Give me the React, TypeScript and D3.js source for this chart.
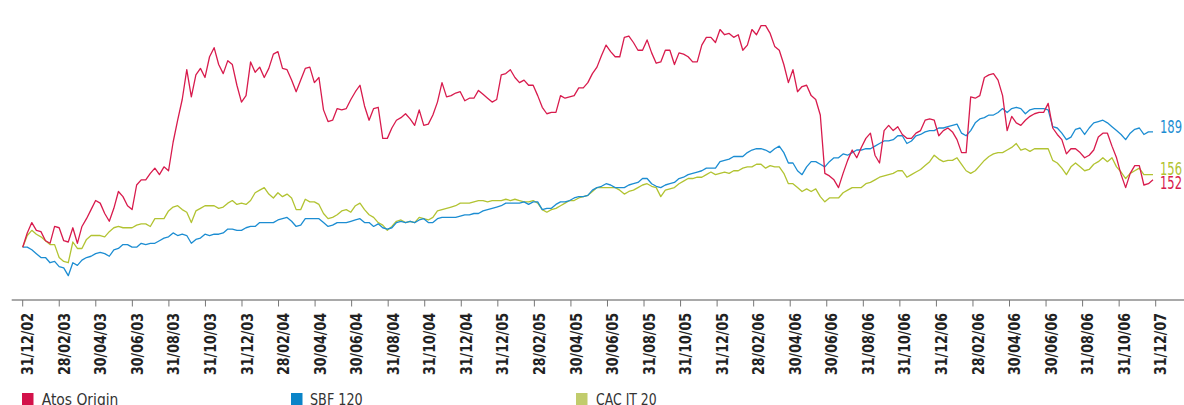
import React from "react";
import * as d3 from "d3";

// x axis labels, every two months (as printed in the original, typos included)
const dateLabels = [
  "31/12/02", "28/02/03", "30/04/03", "30/06/03", "31/08/03", "31/10/03", "31/12/03",
  "28/02/04", "30/04/04", "30/06/04", "31/08/04", "31/10/04", "31/12/04", "31/12/05",
  "28/02/05", "30/04/05", "30/06/05", "31/08/05", "31/10/05", "31/12/05", "28/02/06",
  "30/04/06", "30/06/06", "31/08/06", "31/10/06", "31/12/06", "28/02/06", "30/04/06",
  "30/06/06", "31/08/06", "31/10/06", "31/12/07",
];

// base 100 on 31/12/02, read off roughly once a week
const atosOrigin = [
  100, 111, 119, 113, 112, 105, 103, 116, 115, 105, 104, 115, 103, 116, 122, 129, 136, 134, 126, 120,
  130, 143, 139, 132, 129, 148, 152, 152, 157, 161, 156, 162, 159, 181, 198, 214, 237, 216, 233, 238,
  231, 247, 254, 241, 234, 244, 241, 225, 212, 217, 243, 235, 239, 231, 238, 249, 251, 238, 237, 229,
  220, 229, 238, 239, 227, 231, 206, 197, 198, 207, 206, 207, 214, 220, 225, 209, 198, 207, 208, 184,
  184, 192, 198, 200, 203, 199, 194, 206, 194, 195, 202, 212, 227, 216, 217, 219, 220, 213, 215, 215,
  221, 218, 215, 212, 214, 233, 234, 237, 231, 227, 229, 225, 225, 217, 208, 203, 204, 204, 217, 215,
  216, 217, 223, 223, 227, 234, 239, 248, 256, 251, 247, 247, 262, 263, 258, 252, 252, 260, 250, 242,
  243, 252, 252, 241, 250, 249, 247, 243, 243, 256, 262, 262, 258, 268, 264, 265, 262, 264, 252, 256,
  268, 264, 271, 271, 265, 255, 252, 241, 227, 237, 220, 224, 225, 217, 214, 202, 157, 155, 152, 146,
  157, 167, 175, 169, 177, 184, 188, 171, 165, 190, 194, 190, 193, 187, 184, 184, 188, 190, 198, 199,
  198, 186, 190, 192, 189, 183, 173, 173, 216, 215, 217, 231, 233, 234, 229, 217, 190, 201, 196, 194,
  198, 201, 203, 204, 204, 211, 192, 187, 183, 172, 176, 176, 173, 169, 171, 175, 185, 188, 188, 178,
  169, 156, 146, 157, 163, 163, 148, 149, 152,
];

const sbf120 = [
  100, 100, 98, 95, 92, 92, 88, 89, 85, 84, 78, 88, 86, 90, 92, 93, 95, 96, 95, 93,
  98, 99, 102, 102, 100, 100, 103, 102, 103, 103, 105, 107, 108, 111, 109, 110, 109, 103, 106, 107,
  110, 109, 110, 110, 111, 114, 114, 113, 113, 115, 116, 116, 119, 119, 119, 119, 121, 122, 123, 120,
  116, 117, 122, 122, 122, 122, 119, 116, 117, 119, 119, 119, 120, 121, 122, 119, 119, 116, 118, 115,
  114, 115, 119, 120, 119, 120, 119, 121, 122, 119, 119, 122, 123, 123, 123, 123, 124, 125, 125, 126,
  126, 128, 129, 130, 131, 132, 134, 134, 134, 134, 135, 133, 135, 135, 129, 130, 130, 133, 135, 135,
  136, 138, 139, 139, 140, 144, 146, 147, 149, 148, 146, 146, 146, 148, 149, 150, 153, 153, 149, 147,
  146, 148, 149, 150, 153, 154, 156, 157, 158, 159, 161, 161, 161, 166, 167, 168, 170, 170, 170, 173,
  175, 176, 176, 175, 173, 176, 178, 173, 165, 165, 159, 156, 162, 166, 166, 164, 162, 166, 169, 169,
  172, 171, 173, 175, 175, 176, 176, 178, 180, 182, 182, 183, 186, 186, 180, 182, 186, 187, 189, 190,
  190, 192, 192, 193, 194, 195, 188, 186, 190, 196, 199, 200, 202, 202, 204, 207, 204, 207, 208, 207,
  203, 206, 207, 207, 207, 206, 193, 192, 188, 183, 185, 191, 192, 187, 192, 196, 197, 198, 196, 193,
  190, 187, 183, 188, 191, 192, 187, 189, 189,
];

const cacIT20 = [
  100, 109, 113, 110, 108, 105, 102, 102, 92, 89, 88, 104, 99, 99, 106, 109, 109, 109, 108, 112,
  115, 116, 115, 115, 115, 117, 118, 118, 116, 122, 122, 122, 128, 131, 132, 129, 127, 119, 128, 130,
  132, 132, 132, 130, 131, 134, 136, 133, 134, 133, 136, 142, 144, 146, 141, 138, 142, 139, 141, 138,
  129, 129, 137, 135, 135, 133, 126, 122, 123, 125, 128, 129, 127, 132, 134, 129, 125, 123, 119, 117,
  113, 116, 120, 121, 119, 120, 119, 123, 122, 121, 123, 128, 129, 130, 131, 132, 134, 134, 134, 135,
  136, 136, 135, 136, 136, 136, 137, 136, 137, 136, 135, 135, 136, 134, 129, 127, 129, 130, 132, 134,
  136, 136, 138, 139, 140, 143, 146, 146, 146, 146, 146, 144, 141, 143, 144, 146, 148, 149, 147, 146,
  139, 144, 145, 146, 149, 151, 153, 153, 154, 154, 156, 158, 156, 157, 158, 157, 159, 159, 161, 162,
  162, 164, 164, 161, 163, 162, 162, 157, 149, 149, 146, 143, 145, 143, 145, 139, 135, 138, 138, 138,
  142, 144, 146, 146, 146, 149, 150, 152, 154, 155, 156, 157, 159, 159, 154, 156, 158, 160, 163, 166,
  171, 168, 166, 167, 167, 169, 164, 159, 157, 159, 163, 167, 170, 172, 173, 173, 175, 177, 180, 175,
  176, 174, 176, 176, 176, 176, 167, 165, 161, 156, 162, 165, 162, 159, 160, 164, 166, 169, 166, 169,
  162, 158, 153, 157, 159, 161, 156, 156, 156,
];

const seriesNames = ["Atos Origin", "SBF 120", "CAC IT 20"];

const W = 1184;
const H = 405;
const lineColors = ["#d81b4d", "#1c8dd2", "#b2c332"];
const swatchColors = ["#d3124a", "#0a84c8", "#c1cc6c"];
const labelFont = "'Liberation Sans Narrow', 'DejaVu Sans Condensed', 'Arial Narrow', sans-serif";

const App = () => {
  const series = [atosOrigin, sbf120, cacIT20];

  const xTick = d3.scaleLinear().domain([0, dateLabels.length - 1]).range([22.7, 1155.7]);
  const y = d3.scaleLinear().domain([60, 280]).range([299, 14]);

  const makeLine = (s: number[]) => {
    const xData = d3.scaleLinear().domain([0, s.length - 1]).range([22.7, 1153]);
    return d3.line<number>()
      .x((d, i) => xData(i))
      .y(d => y(d))(s);
  };

  // end value labels, nudged so they do not overlap
  const endDy = [9.5, 1, 0];
  const legendX = [22, 291, 576];
  const legendTextX = [19.7, 19, 20];
  const legendTextLen = [76.7, 52.7, 60.7];

  return (
    <div>
      <style>{`body{margin:0}`}</style>
      <svg width={W} height={H} style={{ display: "block" }}>
        <rect width={W} height={H} fill="#fff" />

        {/* draw order: green, blue, red on top */}
        {[2, 1, 0].map(si => (
          <path
            key={si}
            d={makeLine(series[si]) || ""}
            fill="none"
            stroke={lineColors[si]}
            strokeWidth={1.3}
            strokeLinejoin="round"
          />
        ))}

        {series.map((s, si) => {
          const last = s[s.length - 1];
          return (
            <text
              key={"end" + si}
              x={1160}
              y={y(last) + endDy[si]}
              fill={lineColors[si]}
              fontFamily={labelFont}
              fontSize={17}
              textLength={22}
              lengthAdjust="spacingAndGlyphs"
            >
              {last}
            </text>
          );
        })}

        {/* x axis */}
        <line x1={11.7} x2={W} y1={300} y2={300} stroke="#555" strokeWidth={1.2} />
        {dateLabels.map((lab, i) => (
          <g key={"t" + i}>
            <line x1={xTick(i)} x2={xTick(i)} y1={300} y2={306.5} stroke="#777" strokeWidth={1} />
            <text
              transform={`translate(${xTick(i) + 10.6},313) rotate(-90)`}
              textAnchor="end"
              fontFamily={labelFont}
              fontWeight="bold"
              fontSize={15}
              fill="#222"
              textLength={62}
              lengthAdjust="spacingAndGlyphs"
            >
              {lab}
            </text>
          </g>
        ))}

        {/* legend */}
        {seriesNames.map((name, si) => (
          <g key={"lg" + si} transform={`translate(${legendX[si]},393)`}>
            <rect width={11.5} height={12} fill={swatchColors[si]} />
            <text
              x={legendTextX[si]}
              y={12.2}
              fontFamily={labelFont}
              fontSize={16}
              fill="#333"
              textLength={legendTextLen[si]}
              lengthAdjust="spacingAndGlyphs"
            >
              {name}
            </text>
          </g>
        ))}
      </svg>
    </div>
  );
};

export default App;
